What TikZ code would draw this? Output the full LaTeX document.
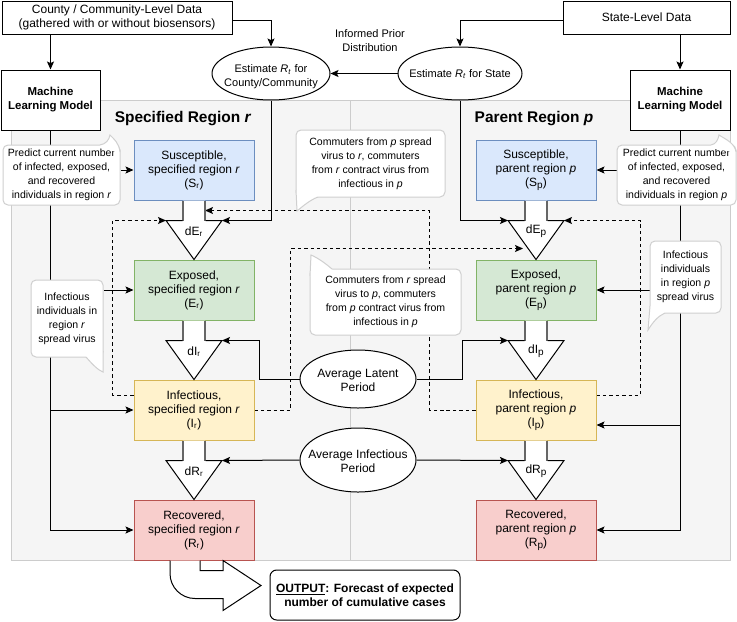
\documentclass[tikz,border=0pt]{standalone}
\usepackage{fontspec}
\setmainfont{Liberation Sans}
\usetikzlibrary{arrows.meta,shapes.geometric,calc}
\pgfdeclarelayer{bg}
\pgfdeclarelayer{lines}
\pgfsetlayers{bg,lines,main}
\definecolor{blueF}{HTML}{DAE8FC}\definecolor{blueD}{HTML}{6C8EBF}
\definecolor{greenF}{HTML}{D5E8D4}\definecolor{greenD}{HTML}{82B366}
\definecolor{yelF}{HTML}{FFF2CC}\definecolor{yelD}{HTML}{D6B656}
\definecolor{redF}{HTML}{F8CECC}\definecolor{redD}{HTML}{B85450}
\definecolor{laneF}{HTML}{F5F5F5}\definecolor{laneD}{HTML}{CCCCCC}
\definecolor{cgray}{HTML}{CFCFCF}\definecolor{shaftC}{HTML}{666666}
\newcommand\fsA{\fontsize{8.25pt}{10.5pt}\selectfont}
\newcommand\fsC{\fontsize{7.9pt}{10.5pt}\selectfont}
\newcommand\fsB{\fontsize{9pt}{10.5pt}\selectfont}
\newcommand\mlfont{\fontsize{8.6pt}{10.5pt}\selectfont\bfseries}
\newcommand\titlefont{\fontsize{11.6pt}{14pt}\selectfont\bfseries}
\newcommand\psub[1]{\raisebox{-0.3ex}{\fontsize{7.5pt}{8pt}\selectfont #1}}
\newcommand\flexarr[3]{%
  \coordinate (#1fa) at (#1.south);
  \coordinate (#1L) at ($(#1fa)+(-28,20)$);
  \coordinate (#1R) at ($(#1fa)+(28,20)$);
  \coordinate (#1M) at ($(#1fa)+(11,10)$);
  \coordinate (#1T) at ($(#1fa)+(-13,48)$);
  \fill[white] ($(#1fa)+(-11,0)$) -- ($(#1fa)+(-11,20)$) -- (#1L) -- (#2.north) -- (#1R) -- ($(#1fa)+(11,20)$) -- ($(#1fa)+(11,0)$) -- cycle;
  \draw[line width=1.5pt, shaftC] ($(#1fa)+(-11,0)$) -- ($(#1fa)+(-11,20)$) ($(#1fa)+(11,0)$) -- ($(#1fa)+(11,20)$);
  \draw[line width=0.75pt] ($(#1fa)+(-11.5,20)$) -- (#1L) -- (#2.north) -- (#1R) -- ($(#1fa)+(11.5,20)$);
  \node[txt, font=\fsB] (#1lab) at ($(#1fa)+(0,31)$) {#3};
}
\tikzset{
  conn/.style={line width=0.75pt, -{Stealth[length=6pt,width=5.25pt,inset=1.2pt]}},
  dconn/.style={conn, dash pattern=on 2.6pt off 2.2pt},
  sbox/.style={draw, line width=0.75pt, inner sep=0pt, align=center, minimum width=90pt, minimum height=45pt, font=\fsB},
  wbox/.style={draw, fill=white, line width=0.75pt, inner sep=0pt, align=center},
  ell/.style={ellipse, draw, fill=white, line width=0.75pt, inner sep=0pt},
  callout/.style={draw=cgray, fill=white, rounded corners=3.75pt, line width=0.75pt, inner sep=0pt, align=center, font=\fsC},
  cline/.style={draw=cgray, line width=0.75pt},
  lane/.style={draw=laneD, fill=laneF, line width=0.75pt, inner sep=0pt},
  txt/.style={inner sep=0pt, align=center}
}
\begin{document}
\begin{tikzpicture}[x=0.75pt,y=-0.75pt]
\useasboundingbox (0,0) rectangle (737,621);
% lanes
\begin{pgfonlayer}{bg}
\node[lane, minimum width=254.25pt, minimum height=345pt] (laneL) at (180.5,330) {};
\node[lane, minimum width=285pt, minimum height=345pt] (laneR) at (540,330) {};
\end{pgfonlayer}
% titles
\node[txt, font=\titlefont] (tL) at (183,119) {Specified Region \textit{r}};
\node[txt, font=\titlefont] (tR) at (534,119) {Parent Region \textit{p}};
\node[txt, font=\fsA] (prior) at (370,41) {Informed Prior\\Distribution};
% top boxes
\node[wbox, minimum width=172.5pt, minimum height=24.75pt, font=\fsB] (county) at (117,17.5) {County / Community-Level Data\\(gathered with or without biosensors)};
\node[wbox, minimum width=125.25pt, minimum height=24.75pt, font=\fsB] (state) at (646.5,17.5) {State-Level Data};
\node[wbox, minimum width=74.25pt, minimum height=45pt, font=\mlfont] (mlL) at (50.5,100) {Machine\\Learning Model};
\node[wbox, minimum width=75pt, minimum height=45pt, font=\mlfont] (mlR) at (680,100) {Machine\\Learning Model};
% ellipses
\node[ell, minimum width=88.5pt, minimum height=39.75pt] (estC) at (271,73.5) {};
\node[txt, font=\fsA] (estCt) at (271,77) {Estimate \textit{R}\textsubscript{\textit{t}} for\\County/Community};
\node[ell, minimum width=93pt, minimum height=39.75pt] (estS) at (460,73.5) {};
\node[txt, font=\fsA] (estSt) at (460,74) {Estimate \textit{R}\textsubscript{\textit{t}} for State};
\node[ell, minimum width=87pt, minimum height=43.5pt] (lat) at (358,379) {};
\node[txt, font=\fsB] (latt) at (358,380) {Average Latent\\Period};
\node[ell, minimum width=87pt, minimum height=48pt] (inf) at (358,460) {};
\node[txt, font=\fsB] (inft) at (358,461) {Average Infectious\\Period};
% compartments
\node[sbox, fill=blueF, draw=blueD] (Sr) at (194,170) {Susceptible,\\specified region \textit{r}\\(S\textsubscript{r})};
\node[sbox, fill=greenF, draw=greenD] (Er) at (194,290) {Exposed,\\specified region \textit{r}\\(E\textsubscript{r})};
\node[sbox, fill=yelF, draw=yelD] (Ir) at (194,410) {Infectious,\\specified region \textit{r}\\(I\textsubscript{r})};
\node[sbox, fill=redF, draw=redD] (Rr) at (194,530) {Recovered,\\specified region \textit{r}\\(R\textsubscript{r})};
\node[sbox, fill=blueF, draw=blueD] (Sp) at (536,170) {Susceptible,\\parent region \textit{p}\\(S\psub{p})};
\node[sbox, fill=greenF, draw=greenD] (Ep) at (536,290) {Exposed,\\parent region \textit{p}\\(E\psub{p})};
\node[sbox, fill=yelF, draw=yelD] (Ip) at (536,410) {Infectious,\\parent region \textit{p}\\(I\psub{p})};
\node[sbox, fill=redF, draw=redD] (Rp) at (536,530) {Recovered,\\parent region \textit{p}\\(R\psub{p})};
% flow arrows
\flexarr{Sr}{Er}{dE\textsubscript{r}}
\flexarr{Er}{Ir}{dI\textsubscript{r}}
\flexarr{Ir}{Rr}{dR\textsubscript{r}}
\flexarr{Sp}{Ep}{dE\psub{p}}
\flexarr{Ep}{Ip}{dI\psub{p}}
\flexarr{Ip}{Rp}{dR\psub{p}}
% callouts
\node[callout, minimum width=87.75pt, minimum height=45pt] (cb1) at (61.5,175) {Predict current number\\of infected, exposed,\\and recovered\\individuals in region \textit{r}};
\fill[white] (100,148) -- (100,145) .. controls (106,144) and (109,140) .. (110,135) .. controls (114,139) and (119,143) .. (120,152) -- (117,152) -- cycle;
\draw[cline] (100,145) .. controls (106,144) and (109,140) .. (110,135) .. controls (114,139) and (119,143) .. (120,152);
\node[callout, minimum width=89.25pt, minimum height=45pt] (cb2) at (676.5,175) {Predict current number\\of infected, exposed,\\and recovered\\individuals in region \textit{p}};
\fill[white] (711,148) -- (711,145) .. controls (716,144) and (718,140) .. (719,135) .. controls (725,139) and (735,143) .. (736,152) -- (733,152) -- cycle;
\draw[cline] (711,145) .. controls (716,144) and (718,140) .. (719,135) .. controls (725,139) and (735,143) .. (736,152);
\node[callout, minimum width=54pt, minimum height=57.75pt] (cb3) at (67,318.5) {Infectious\\individuals in\\region \textit{r}\\spread virus};
\fill[white] (86,354) -- (86,357) .. controls (93,365) and (98,370) .. (103,372) -- (103,351) -- (100,351) -- cycle;
\draw[cline] (86,357) .. controls (93,365) and (98,370) .. (103,372) -- (103,351);
\node[callout, minimum width=53.25pt, minimum height=54pt] (cb4) at (685.5,277) {Infectious\\individuals\\in region \textit{p}\\spread virus};
\fill[white] (650,306) -- (648,330) .. controls (653,322) and (658,316) .. (665,313) -- (665,310) -- (653,306) -- cycle;
\draw[cline] (650,306) -- (648,330) .. controls (653,322) and (658,316) .. (665,313);
\node[callout, minimum width=111.75pt, minimum height=50.25pt] (cb5) at (370.5,163.5) {Commuters from \textit{p} spread\\virus to \textit{r}, commuters\\from \textit{r} contract virus from\\infectious in \textit{p}};
\fill[white] (296,190) -- (297,211) .. controls (303,206) and (310,200) .. (318,197) -- (318,194) -- (299,190) -- cycle;
\draw[cline] (296,190) -- (297,211) .. controls (303,206) and (310,200) .. (318,197);
\node[callout, minimum width=113.25pt, minimum height=49.5pt] (cb6) at (385.5,302) {Commuters from \textit{r} spread\\virus to \textit{p}, commuters\\from \textit{p} contract virus from\\infectious in \textit{p}};
\fill[white] (310,276) -- (311,255) .. controls (318,258) and (325,263) .. (332,269) -- (332,272) -- (313,276) -- cycle;
\draw[cline] (310,276) -- (311,255) .. controls (318,258) and (325,263) .. (332,269);
% output
\node[wbox, rounded corners=5pt, minimum width=142.5pt, minimum height=37.5pt, font=\fsB\bfseries] (out) at (365,595) {\underline{OUTPUT}: Forecast of expected\\number of cumulative cases};
\coordinate (ua) at (Rr.south);
\filldraw[fill=white, line width=0.75pt] ($(ua)+(-24,0)$) -- ($(ua)+(-24,13)$) .. controls ($(ua)+(-24,26.8)$) and ($(ua)+(-12.8,38)$) .. ($(ua)+(1,38)$) -- ($(ua)+(29,38)$) -- ($(ua)+(29,50)$) -- ($(ua)+(67,25)$) -- ($(ua)+(29,0)$) -- ($(ua)+(29,10)$) -- ($(ua)+(6,10)$) -- ($(ua)+(6,0)$);
% connectors
\coordinate (Ipa) at ($(Ip.east)+(0,15)$);
\coordinate (Ipb) at ($(Ip.east)+(0,-15)$);
\coordinate (Irb) at ($(Ir.west)+(0,-15)$);
\begin{pgfonlayer}{lines}
\draw[conn] ([yshift=-1.9pt]county.east) -| (estC.north);
\draw[conn] ([yshift=-1.9pt]state.west) -| (estS.north);
\draw[conn] (mlL.north |- county.south) -- (mlL.north);
\draw[conn] (mlR.north |- state.south) -- (mlR.north);
\draw[conn] (estS.west) -- (estC.east);
\draw[conn] (estC.south) |- (SrR);
\draw[conn] (estS.south) |- (SpL);
\draw[conn] (lat.west) -- ++(-40,0) |- (ErR);
\draw[conn] (lat.east) -- ++(46,0) |- (EpL);
\draw[conn] (inf.west) -- (IrR);
\draw[conn] (inf.east) -- (IpL);
\draw[conn] (mlL.south) |- (Rr.west);
\draw[conn] (mlL.south |- Ir.west) -- (Ir.west);
\draw[conn] (cb1.east |- Sr.west) -- (Sr.west);
\draw[conn] (cb3.east |- Er.west) -- (Er.west);
\draw[conn] (mlR.south) |- (Rp.east);
\draw[conn] (mlR.south |- Ipa) -- (Ipa);
\draw[conn] (cb2.west |- Sp.east) -- (Sp.east);
\draw[conn] (cb4.west |- Ep.east) -- (Ep.east);
\draw[dconn] (Ip.west) -- ++(-46,0) |- (SrM);
\draw[dconn] (Ir.east) -- ++(36,0) |- (SpT);
\draw[dconn] (Irb) -- ++(-21,0) |- (SrL);
\draw[dconn] (Ipb) -- ++(44,0) |- (SpR);
\end{pgfonlayer}
\end{tikzpicture}
\end{document}
